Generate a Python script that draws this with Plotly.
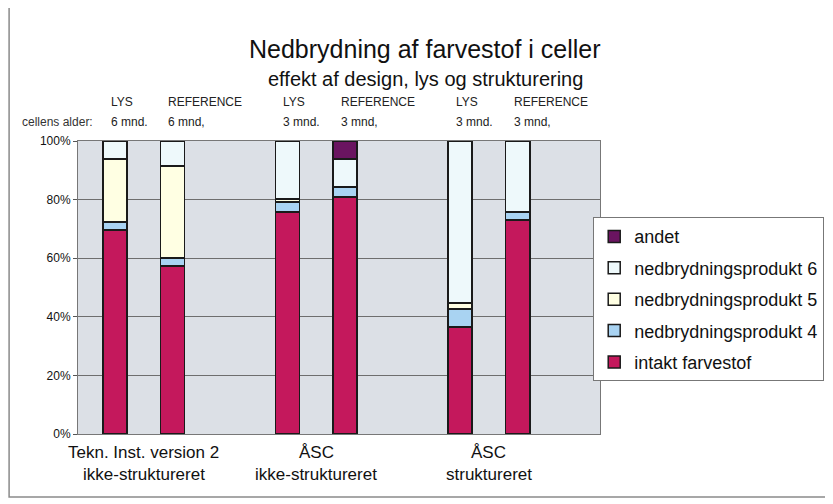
import plotly.graph_objects as go

# slots on the x axis (the gaps separate the three designs)
slots = ["t_lys", "t_ref", "gap1", "a_lys", "a_ref", "gap2", "s_lys", "s_ref", "gap3"]
bars = ["t_lys", "t_ref", "a_lys", "a_ref", "s_lys", "s_ref"]
top_text = ["LYS", "REFERENCE", "LYS", "REFERENCE", "LYS", "REFERENCE"]
age_text = ["6 mnd.", "6 mnd,", "3 mnd.", "3 mnd,", "3 mnd.", "3 mnd,"]

group_line1 = ["Tekn. Inst. version 2", "ÅSC", "ÅSC"]
group_line2 = ["ikke-struktureret", "ikke-struktureret", "struktureret"]

# percent of dye per bar
intakt = [69.6, 57.3, 75.8, 80.9, 36.5, 73.0]
nedbr4 = [2.8, 2.8, 3.4, 3.4, 6.2, 2.8]
nedbr5 = [21.5, 31.4, 1.0, 0.0, 2.0, 0.0]
nedbr6 = [6.1, 8.5, 19.8, 9.6, 55.3, 24.2]
andet = [0.0, 0.0, 0.0, 6.1, 0.0, 0.0]

font = "Liberation Sans, Arial, sans-serif"

series = [
    ("intakt farvestof", intakt, "#C4185C"),
    ("nedbrydningsprodukt 4", nedbr4, "#A9D3F2"),
    ("nedbrydningsprodukt 5", nedbr5, "#FFFFE3"),
    ("nedbrydningsprodukt 6", nedbr6, "#EEF9FB"),
    ("andet", andet, "#6A1460"),
]

fig = go.Figure()
for i, (name, vals, col) in enumerate(series):
    # legend lists the top segment first
    fig.add_trace(go.Bar(
        x=bars, y=vals, name=name, width=0.42, legendgroup=name,
        legendrank=len(series) - i,
        marker=dict(color=col, line=dict(color="#1a1a1a", width=1.5)),
    ))

# bar header labels
for b, t1, t2 in zip(bars, top_text, age_text):
    fig.add_annotation(x=b, y=1.164, xref="x", yref="paper", text=t1, showarrow=False,
                       xanchor="left", xshift=-6, font=dict(size=12, color="#222"))
    fig.add_annotation(x=b, y=1.095, xref="x", yref="paper", text=t2, showarrow=False,
                       xanchor="left", xshift=-6, font=dict(size=12, color="#222"))

fig.add_annotation(x=-0.04, y=1.095, xref="paper", yref="paper", text="cellens alder:",
                   showarrow=False, xanchor="center", font=dict(size=12, color="#333"))

# design labels under each pair
for i, (l1, l2) in enumerate(zip(group_line1, group_line2)):
    xc = (slots.index(bars[2 * i]) + slots.index(bars[2 * i + 1])) / 2
    fig.add_annotation(x=xc, y=-0.104, xref="x", yref="paper", text=l1, showarrow=False,
                       font=dict(size=17, color="#111"))
    fig.add_annotation(x=xc, y=-0.176, xref="x", yref="paper", text=l2, showarrow=False,
                       font=dict(size=17, color="#111"))

fig.add_annotation(x=0.665, y=1.369, xref="paper", yref="paper",
                   text="Nedbrydning af farvestof i celler", showarrow=False,
                   font=dict(size=25, color="#111"))
fig.add_annotation(x=0.665, y=1.256, xref="paper", yref="paper",
                   text="effekt af design, lys og strukturering", showarrow=False,
                   font=dict(size=20, color="#111"))

# outer frame of the chart
fig.add_shape(type="rect", xref="paper", yref="paper", x0=-0.132, x1=1.6, y0=-0.215, y1=1.5,
              line=dict(color="#8a8a8a", width=1.5), layer="below")

fig.update_layout(
    width=833, height=504,
    margin=dict(l=70, r=241, t=133, b=78, autoexpand=False),
    barmode="stack",
    paper_bgcolor="white",
    plot_bgcolor="#DCE0E6",
    font=dict(family=font, color="#111"),
    legend=dict(
        x=0.987, y=0.74, xanchor="left", yanchor="top",
        traceorder="grouped", tracegroupgap=5,
        bgcolor="white", bordercolor="#777", borderwidth=1,
        font=dict(size=18, color="#111"),
    ),
    xaxis=dict(
        categoryorder="array", categoryarray=slots, range=[-0.64, 8.43],
        showticklabels=False, showgrid=False, showline=True, linecolor="#777",
        mirror=True, ticks="",
    ),
    yaxis=dict(
        range=[0, 100], dtick=20, ticksuffix="%", showgrid=True, gridcolor="#6e6e6e",
        gridwidth=1, showline=True, linecolor="#777", mirror=True, ticks="outside",
        ticklen=4, tickcolor="#555", tickfont=dict(size=12, color="#111"), zeroline=False,
    ),
)

fig.write_html("out.html")
